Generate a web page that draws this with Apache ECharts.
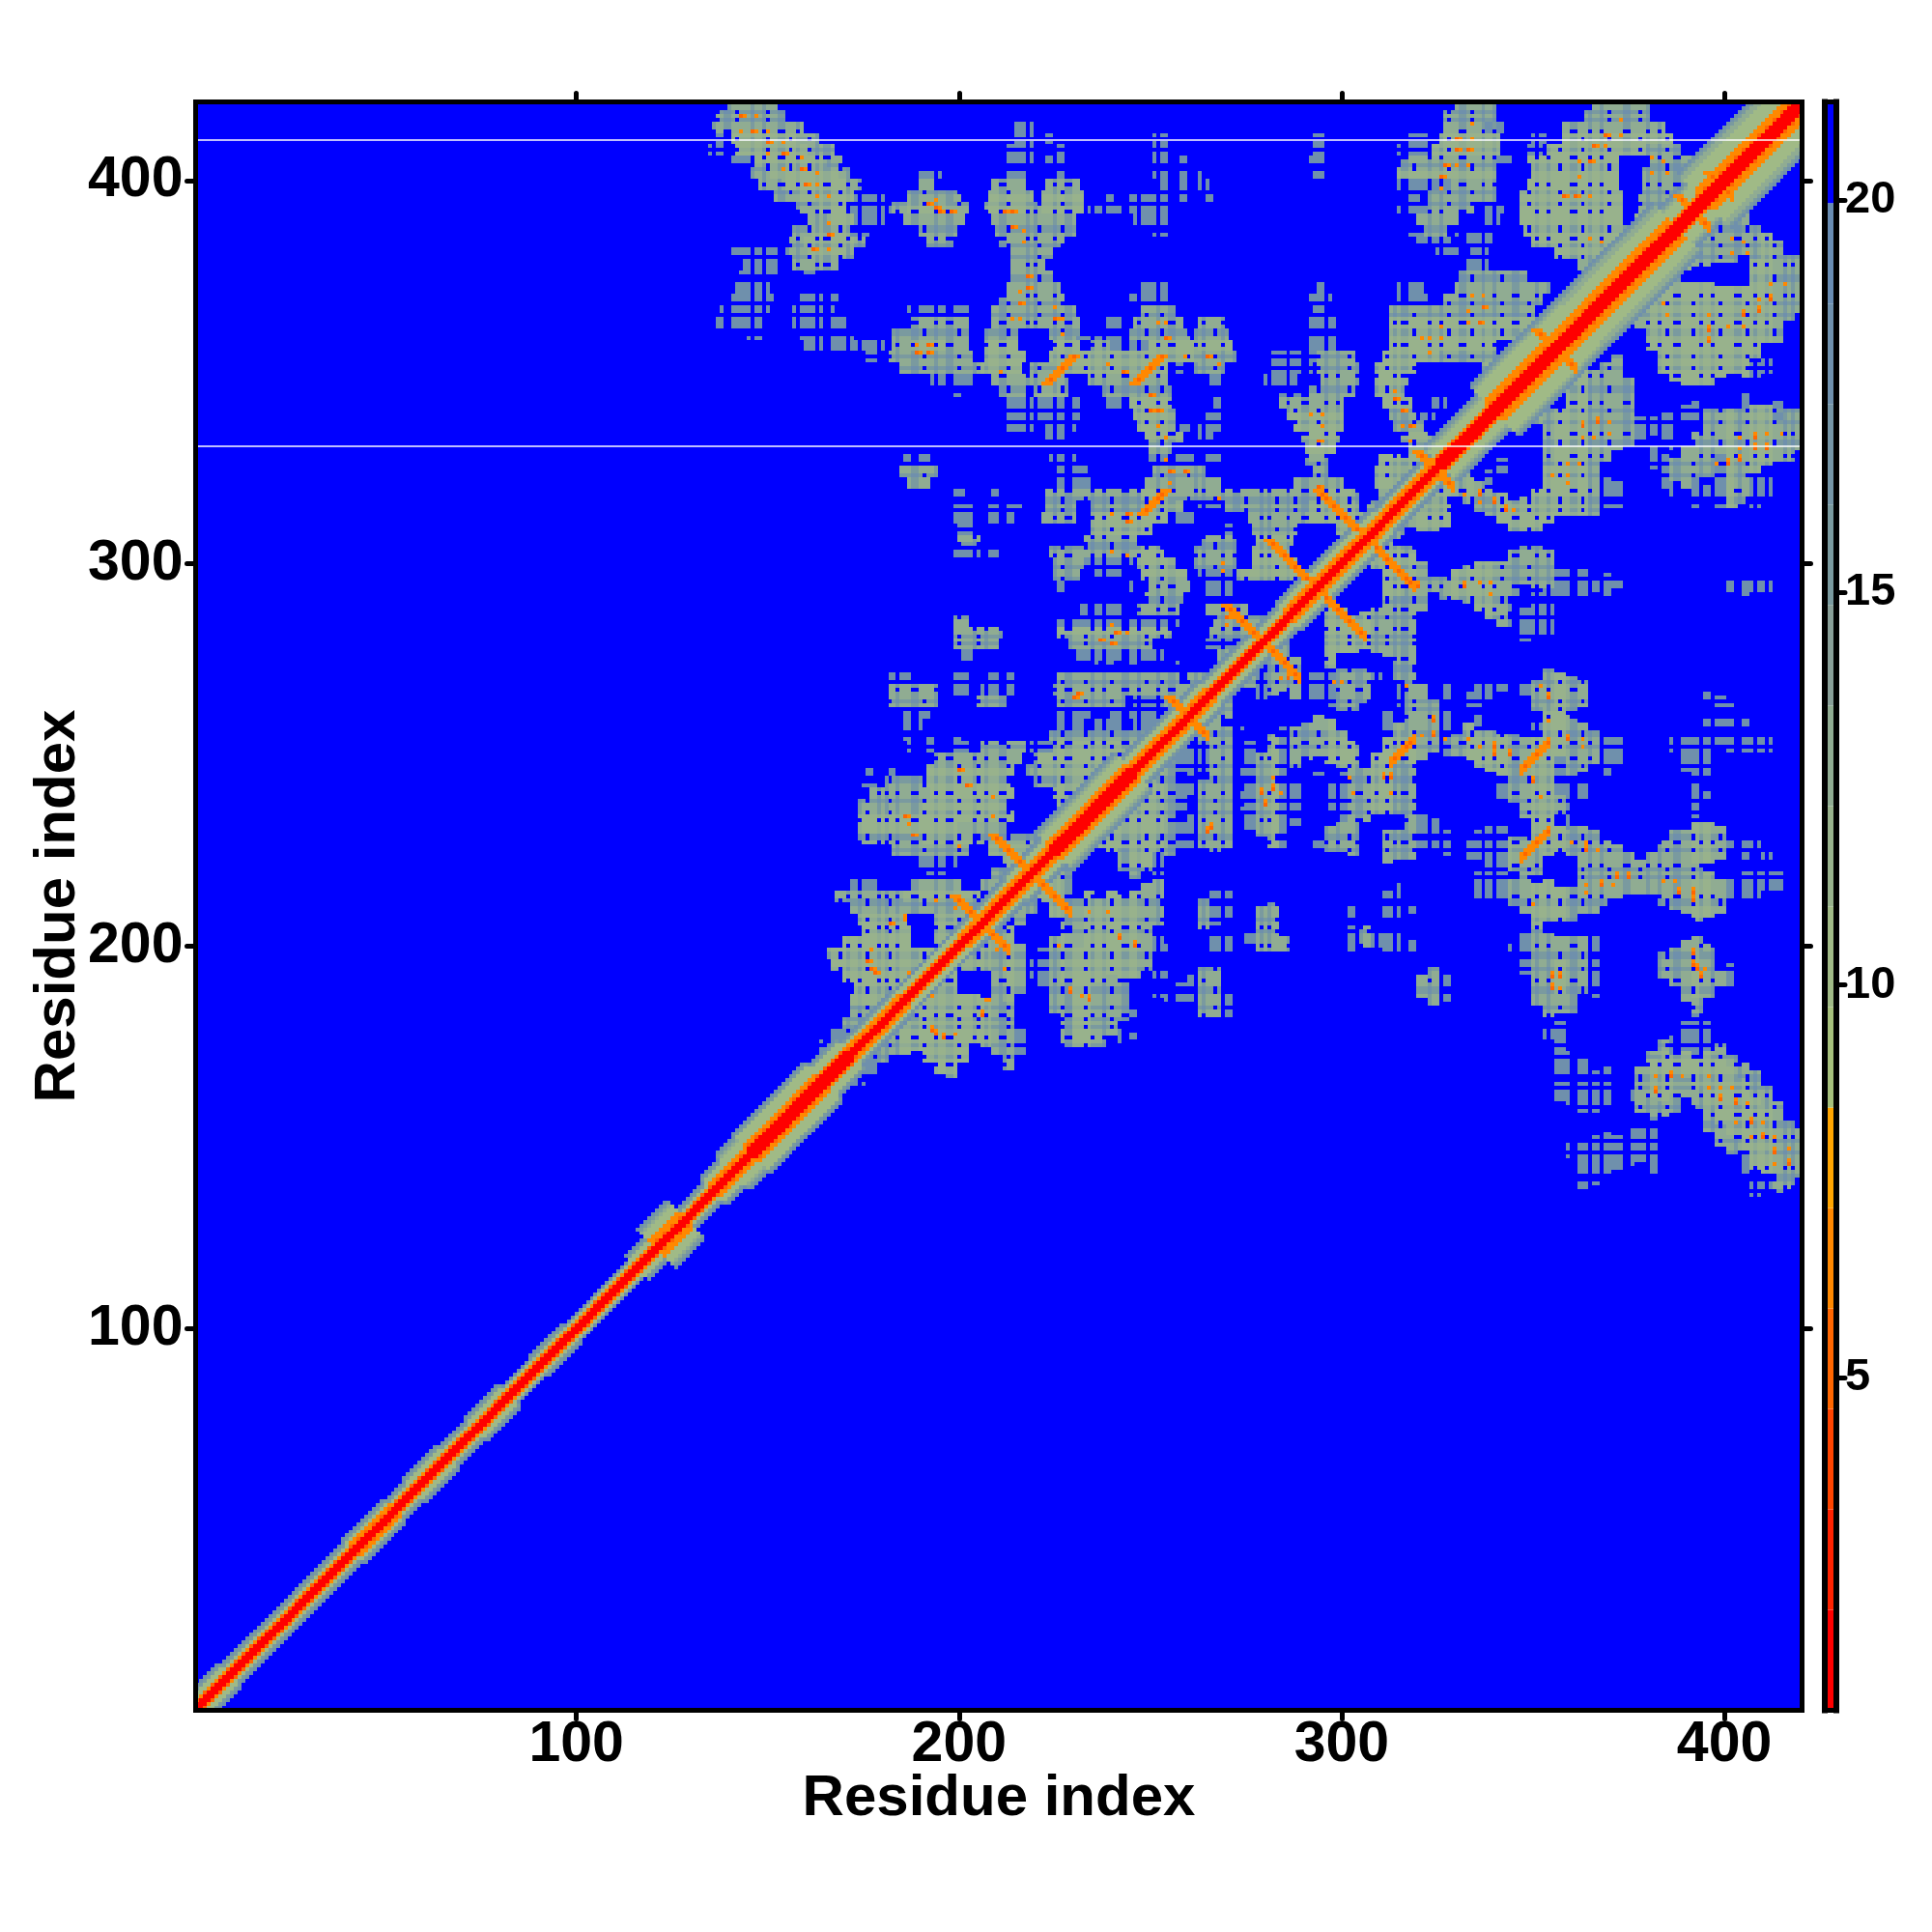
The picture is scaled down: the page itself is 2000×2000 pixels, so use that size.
<!DOCTYPE html>
<html><head><meta charset="utf-8">
<style>html,body{margin:0;padding:0;background:#fff}#c{width:2000px;height:2000px}</style>
<script src="https://cdn.jsdelivr.net/npm/echarts@6/dist/echarts.min.js"></script>
</head><body><div id="c"></div>
<script>
const axisTicks=[100,200,300,400];
const legendTicks=[5,10,15,20];
const levelBreaks=[0.76,2.04,3.32,4.6,5.88,7.16,8.44,9.72,11,12.28,13.56,14.84,16.12,17.4,18.68,19.96,21.25];
const levelColors=['#FF0000','#FF2200','#FF4400','#FF6600','#FF8800','#FFA500','#A6C07C','#A0BA86','#98B28C','#90AC92','#889F98','#7A9A9F','#7595A6','#6F90AC','#698CB2','#0000FF'];
const missingRows=[410.6,330.6];
// residue, half-widths measured from the diagonal: red, orange, green, steel
const diagonalBands=[[1,9,1,2,4,6],[10,41,1,2,3,5],[42,52,1,3,4,6],[53,57,1,2,3,5],[58,66,1,2,4,6],[67,73,1,2,3,5],[74,82,1,2,4,6],[83,89,1,2,3,4],[90,98,1,2,3,5],[99,115,1,2,3,4],[116,120,1,2,4,6],[121,128,1,4,7,10],[129,135,1,2,3,5],[136,140,1,3,5,7],[141,145,1,3,6,9],[146,164,2,4,8,10],[165,171,2,3,6,8],[172,185,1,3,4,6],[186,200,1,2,4,5],[201,214,1,3,4,6],[215,224,1,3,5,7],[225,245,2,4,7,10],[246,265,1,3,5,7],[266,285,1,2,4,6],[286,310,1,3,5,7],[311,325,1,3,4,6],[326,339,2,3,6,9],[340,362,2,5,10,13],[363,387,2,5,9,13],[388,394,2,3,7,10],[395,420,2,5,10,14]];
// y of a three-residue row, then runs x1-x2 with D dense, M medium, S sparse
const contactRuns=[
[420,"140-152M 330-340M 366-380M"],[417,"137-154M 327-340M 364-380M"],[414,"136-159M 215-219S 327-341M 338-342S 358-384M"],
[411,"136-140S 141-158D 159-163M 215-219S 223-225S 251-254S 293-295S 316-322S 326-341D 350-353S 358-386D"],
[408,"135-140S 142-160D 161-167M 212-219S 225-228S 251-255S 293-295S 315-322S 324-341D 349-352S 354-380D 380-388M"],
[405,"141-146S 147-165D 166-169M 211-219S 223-228S 251-256S 258-259S 292-295S 316-340M 341-344S 349-372D 381-392M"],
[402,"146-150M 151-168D 169-171M 189-195S 211-218S 225-228S 251-255S 258-259S 263-264S 293-295S 315-340D 350-372D 379-395M"],
[399,"148-153M 154-170D 171-174M 190-193M 209-217M 223-231M 252-256S 258-259S 263-265S 315-328S 329-340M 349-372D 379-396M"],
[396,"152-157M 158-172D 173-180S 187-200M 208-219D 222-232D 239-240S 245-250S 251-255S 258-259S 264-266S 316-320S 323-340M 347-373D 378-396M"],
[393,"158-163M 163-170D 171-182S 183-186M 187-198D 199-202M 207-218D 219-221M 222-232D 234-255S 315-322S 323-334M 338-342S 347-373D 378-398M"],
[390,"161-165M 166-172D 173-180S 186-201M 209-230M 246-254S 320-330M 338-341S 347-373D 377-398D"],
[387,"157-162M 162-171D 172-176S 190-199M 210-230M 251-254S 318-321S 322-327M 330-340S 348-375D 376-393D"],
[384,"156-160M 160-172D 173-175M 192-198M 211-227M 320-328S 331-340S 350-382D"],
[381,"141-155S 156-160M 161-170D 171-172M 214-224M 325-330S 334-338S 356-386D"],
[378,"144-154S 157-168M 214-222M 333-338S 362-385M"],
[375,"143-152S 160-163S 214-224M 331-348M"],
[372,"142-150S 213-226M 247-255S 294-296S 314-321S 330-354M"],
[369,"139-151S 158-168S 211-227M 245-255S 292-297S 314-322S 327-352M"],
[366,"138-150S 157-167S 187-202S 209-230M 248-256M 293-296S 313-350M"],
[363,"137-149S 157-171S 188-202M 209-231M 239-243S 246-258M 263-269M 292-298S 313-351D"],
[360,"145-149S 158-172S 183-202M 207-215M 224-231M 231-236S 237-244S 245-260M 262-270M 292-299S 313-352D"],
[357,"160-180S 183-188M 188-196D 197-202M 207-215D 225-231D 235-240M 240-250S 250-262D 263-271D 292-298S 313-340D 349-352M"],
[354,"176-178S 182-203M 207-217D 224-233D 234-246D 247-262D 263-272M 281-283S 284-293S 294-303M 311-325D 326-340M 349-355M"],
[351,"185-203M 203-207M 206-216D 219-224M 225-234D 234-247D 248-254D 255-258S 262-269M 281-292S 294-304M 309-319D 337-353D"],
[348,"193-203S 209-228M 234-250M 251-254M 266-268S 280-285S 286-288S 295-304M 309-317D 336-348D"],
[345,"199-200S 211-217M 220-228D 238-255M 284-286S 288-290S 292-303M 309-316D"],
[342,"211-231S 238-242S 245-255D 267-269S 284-296M 296-300M 311-318D 323-327S"],
[339,"211-231S 246-256D 264-268S 286-300D 313-319M 321-324S"],
[336,"211-220S 223-230S 247-256D 258-260S 263-268S 288-300D 314-321M"],
[333,"223-229S 249-258D 263-266S 290-299D 316-323D"],
[330,"250-255M 291-298D 318-324M"],
[327,"186-192S 224-230S 250-262S 264-268S 291-296M 310-323D"],
[324,"185-194M 225-233S 251-264M 293-296M 309-322D"],
[321,"187-192M 226-234S 249-268M 288-300M 309-316D"],
[318,"188-189S 199-201S 209-211S 223-231M 226-235M 235-247M 248-256D 257-270M 270-293M 294-302D 303-304M 310-317M"],
[315,"199-204S 208-216S 223-230M 235-250M 250-258D 262-270S 270-291M 292-304D 307-313M"],
[312,"199-204S 208-214S 222-230M 235-254D 255-262S 276-290M 291-307D"],
[309,"200-203S 235-250D 270-273S 277-288M 299-308D"],
[306,"200-205M 233-246M 264-272M 278-287D 299-305D"],
[303,"198-205S 208-211S 224-246M 247-253D 262-272M 277-286D"],
[300,"225-232M 233-236S 237-245S 247-256D 262-272M 277-288D"],
[297,"225-231M 235-243S 248-259D 263-272S 273-290D"],
[294,"225-228S 244-245S 250-260M 264-272S 288-292D"],
[291,"249-258M 264-272S 288-291D"],
[288,"232-233S 236-243S 247-257M 265-275M 284-288D"],
[285,"199-202M 226-229S 230-243S 244-250S 251-257S 267-280M"],
[282,"199-211M 226-255D 266-278M"],
[279,"199-210M 229-250M 264-276S"],
[276,"201-203S 231-253S 268-274M"],
[273,"235-236S 238-240S 243-246S 255-257S 268-271M"],
[270,"182-187S 199-202S 208-214S 226-257M 260-264M"],
[267,"182-194M 198-202S 206-214S 225-262M"],
[264,"182-194M 205-212M 226-243M 246-253S 254-262M"],
[261,"186-192S 226-234S 240-252S"],
[258,"186-190S 225-232S 236-244S 246-252S"],
[255,"186-189S 192-194S 197-200S 224-235M 236-250M"],
[252,"187-189S 192-194S 197-202S 206-217M 218-224S 225-240D 241-246D"],
[249,"194-198M 198-216M 220-225M 221-241D"],
[246,"176-177S 181-183S 192-214D 218-221M 221-238D"],
[243,"174-178S 181-190M 192-213D 220-226M 226-235D"],
[240,"177-192M 193-214D 225-232D"],
[237,"174-190M 191-212D 226-230D"],
[234,"174-214D"],
[231,"174-200D 200-212M 225-226M"],
[228,"174-190M 191-203D 205-223M"],
[225,"183-202M 208-222D"],
[222,"190-199S 212-220D"],
[219,"192-196S 209-216M"],
[216,"172-178S 188-200M 206-212M"],
[213,"168-185M 186-205D"],[210,"172-205M"],[207,"174-186D 194-206D"],[204,"175-187D 194-203D"],[201,"170-187D 194-200D"],
[198,"166-190D 191-197D"],[195,"167-195D"],[192,"170-192D"],[189,"173-188D"],[186,"172-186D"],[183,"172-182M"],[180,"170-178M"],[177,"167-172S"],[174,"163-168S"]
];
// residues whose row and column read weaker, which gives the plaid of the map
const weakResidues=[136,139,140,146,149,153,154,158,163,165,166,171,174,179,181,184,188,189,194,197,198,204,207,211,212,218,220,225,228,229,235,238,243,244,247,252,255,256,262,264,269,272,273,279,281,286,290,291,296,299,304,305,309,314,316,317,323,326,331,332,337,340,345,346,351,354,360,361,365,368,374,375,380,383,387,388,394,397,403,404,408,411,416,418];
// residues that leave open holes where they cross a weak residue
const openResidues=[137,142,150,156,161,169,176,182,191,200,205,213,221,227,233,240,249,253,260,267,275,283,288,294,302,307,312,319,328,334,342,349,357,363,370,378,385,392,399,406,413];
// hand-read orange strokes: x, y, length, direction of y per step
const hotStrokes=[[294,319,11,-1],[281,306,11,-1],[270,289,9,-1],[209,229,9,-1],[199,213,7,-1],[255,265,5,-1],[388,396,3,-1],[351,361,4,-1],[396,402,3,-1],[320,329,4,-1],[246,347,8,1],[223,347,8,1],[248,313,7,1]];
// hand-read single cells: x, y, distance
const hotCells=[[143,417,5],[147,417,7],[143,413,7],[146,413,5],[150,413,7],[150,410,5],[154,410,7],[150,407,7],[154,407,5],[159,406,7],[154,403,7],[159,403,5],[163,402,7],[160,399,5],[163,399,7],[163,396,7],[166,396,7],[166,389,7],[166,386,5],[162,382,5],[166,382,7],
[192,394,5],[194,393,5],[195,392,5],[198,392,5],[194,395,7],[189,357,7],[189,355,5],[192,357,5],[192,355,5],
[212,392,5],[214,392,5],[214,388,5],[217,387,7],[217,384,7],[218,375,5],[218,372,5],[216,371,7],[216,368,5],[214,364,7],[216,364,7],[225,367,7],[225,364,5],[227,364,7],[227,360,7],[211,350,7],
[252,363,7],[254,363,7],[254,359,5],[239,352,7],[243,350,5],[265,354,5],[268,352,7],[259,354,7],[250,344,5],[250,340,5],[252,340,5],[252,336,7],[254,333,7],[254,327,7],[259,324,5],[255,324,5],[255,321,7],[253,318,5],[268,317,7],
[292,339,7],[295,339,7],[295,336,7],[294,332,5],[294,320,5],[296,317,5],
[314,345,7],[314,343,5],[316,340,5],[316,336,7],[318,336,5],[318,332,7],[321,359,7],[323,359,7],[326,359,7],[323,355,7],[326,362,7],[333,366,7],[337,367,5],[333,363,7],[336,363,5],[334,370,7],[337,370,7],
[334,415,7],[330,411,5],[334,411,7],[330,408,5],[333,408,5],[327,404,5],[330,404,7],[333,404,7],[326,401,5],[326,398,7],
[373,416,7],[369,412,5],[373,412,7],[366,409,5],[369,409,7],[381,406,7],[362,405,7],[365,405,5],[384,405,7],[358,396,5],[361,396,5],[365,396,7],[381,402,7],[385,402,7],[365,385,7],[368,384,7],[362,401,7],
[186,234,5],[187,232,7],[188,229,5],[200,246,5],[202,242,5],[209,239,7],[209,234,7],[200,226,7],[230,265,5],[231,266,5],[240,284,7],[237,280,5],[240,279,5],[241,282,5],[244,282,7],[240,303,7],[244,302,7],[240,313,7],[244,313,5],[244,311,5],[270,286,5],[270,284,7],[269,300,7],[269,298,7],
[176,196,5],[177,194,5],[178,193,5],[182,206,5],[186,208,7],[186,207,7],[177,199,7],[194,212,7],[199,210,7],[187,193,7]];

const weak=new Set(weakResidues), open=new Set(openResidues), grid=new Map();
const put=(x,y,v)=>{ if(x>=1&&x<=420&&y>=1&&y<=420){grid.set(x*1000+y,v);grid.set(y*1000+x,v);} };
const styleValue={D:[11.5,13,15],M:[13,15.5,18],S:[17.5,null,null]};
contactRuns.forEach(([y,text])=>text.split(' ').forEach(run=>{
  const m=run.match(/(\d+)-(\d+)([DMS])/), a=+m[1], b=+m[2], vals=styleValue[m[3]];
  for(let x=a;x<=b;x++) for(let r=y-1;r<=y+1;r++){
    const crossed=(open.has(x)&&weak.has(r))||(weak.has(x)&&open.has(r));
    const v=vals[(weak.has(x)?1:0)+(weak.has(r)?1:0)];
    if(v!==null&&!crossed) put(x,r,v);
  }
}));
diagonalBands.forEach(([from,to,r,o,g,s])=>{
  for(let c=from;c<=to;c++) for(let d=s;d>=0;d--){
    const v=d<=r?1.5:(d===r+1&&c%2===0)?5:d<=o?7:d<=g?10:d===s?18:d===s-1?16:13.5;
    put(c-Math.floor(d/2),c+Math.ceil(d/2),v);
  }
});
const hot=(x,y,v)=>{const old=grid.get(x*1000+y); if(old===undefined||old>3) put(x,y,v);};
hotStrokes.forEach(([x,y,n,dir])=>{
  for(let i=0;i<n;i++){ hot(x+i-1,y+dir*i,7); hot(x+i+1,y+dir*i,7); hot(x+i,y+dir*i,i%3===1?5:7); }
});
hotCells.forEach(([x,y,v])=>{ hot(x,y,v); if(v===5) hot(x+1,y,7); });
const cells=[]; grid.forEach((v,k)=>cells.push([Math.floor(k/1000),k%1000,v]));

const frame={show:true,onZero:false,lineStyle:{color:'#000',width:5,cap:'square'}};
const tickStyle=t=>({show:true,length:9,customValues:t,lineStyle:{color:'#000',width:5,cap:'round'}});
const labelFont={fontFamily:'Liberation Sans',fontWeight:'bold',color:'#000'};
const xRange={min:0.5,max:420.3}, yRange={min:0.3,max:420.6};
const barRange={min:0.76,max:21.25};
const barData=levelColors.map((c,i)=>[levelBreaks[i],levelBreaks[i+1],i]);

const chart=echarts.init(document.getElementById('c'),null,{renderer:'canvas'});
chart.setOption({
  animation:false,backgroundColor:'#fff',
  grid:[
    {left:202.5,top:105.5,width:1663,height:1665,show:true,backgroundColor:'#0000FF',borderWidth:0},
    {left:1889,top:105.5,width:12,height:1665,show:false}
  ],
  xAxis:[
    {type:'value',gridIndex:0,position:'bottom',...xRange,z:10,axisLine:frame,splitLine:{show:false},axisTick:tickStyle(axisTicks),
     axisLabel:{show:true,customValues:axisTicks,fontSize:59,margin:7,...labelFont},
     name:'Residue index',nameLocation:'middle',nameGap:62,nameMoveOverlap:false,nameTextStyle:{fontSize:60,...labelFont}},
    {type:'value',gridIndex:0,position:'top',...xRange,z:10,axisLine:frame,splitLine:{show:false},axisTick:tickStyle(axisTicks),axisLabel:{show:false}},
    {type:'value',gridIndex:1,position:'bottom',min:0,max:1,z:10,axisLine:frame,splitLine:{show:false},axisTick:{show:false},axisLabel:{show:false}},
    {type:'value',gridIndex:1,position:'top',min:0,max:1,z:10,axisLine:frame,splitLine:{show:false},axisTick:{show:false},axisLabel:{show:false}}
  ],
  yAxis:[
    {type:'value',gridIndex:0,position:'left',...yRange,z:10,axisLine:frame,splitLine:{show:false},axisTick:tickStyle(axisTicks),
     axisLabel:{show:true,customValues:axisTicks,fontSize:59,margin:13,padding:[6,0,0,0],...labelFont},
     name:'Residue index',nameLocation:'middle',nameGap:112,nameMoveOverlap:false,nameTextStyle:{fontSize:60,...labelFont}},
    {type:'value',gridIndex:0,position:'right',...yRange,z:10,axisLine:frame,splitLine:{show:false},axisTick:tickStyle(axisTicks),axisLabel:{show:false}},
    {type:'value',gridIndex:1,position:'right',...barRange,z:10,axisLine:{...frame,lineStyle:{color:'#000',width:6,cap:'square'}},splitLine:{show:false},axisTick:tickStyle(legendTicks),
     axisLabel:{show:true,customValues:legendTicks,fontSize:47,margin:9,padding:[5,0,0,0],...labelFont}},
    {type:'value',gridIndex:1,position:'left',...barRange,z:10,axisLine:{...frame,lineStyle:{color:'#000',width:6,cap:'square'}},splitLine:{show:false},axisTick:{show:false},axisLabel:{show:false}}
  ],
  visualMap:{show:false,type:'piecewise',seriesIndex:0,dimension:2,
    pieces:levelColors.map((c,i)=>({gte:levelBreaks[i],lt:levelBreaks[i+1],color:c}))},
  series:[
    {type:'custom',xAxisIndex:0,yAxisIndex:0,z:2,clip:true,silent:true,progressive:0,animation:false,data:cells,
     encode:{x:0,y:1},
     renderItem:(p,api)=>{
       const a=api.coord([api.value(0)-0.5,api.value(1)+0.5]), b=api.coord([api.value(0)+0.5,api.value(1)-0.5]);
       const x=Math.round(a[0]), y=Math.round(a[1]);
       return {type:'rect',shape:{x,y,width:Math.round(b[0])-x,height:Math.round(b[1])-y},style:{fill:api.visual('color')}};
     }},
    ...missingRows.map(v=>({type:'line',xAxisIndex:0,yAxisIndex:0,z:3,silent:true,showSymbol:false,animation:false,
      data:[[xRange.min,v],[xRange.max,v]],lineStyle:{color:'#fff',width:1.5}})),
    {type:'custom',xAxisIndex:2,yAxisIndex:2,z:2,clip:true,silent:true,animation:false,data:barData,
     encode:{y:[0,1]},
     renderItem:(p,api)=>{
       const a=api.coord([0,api.value(1)]), b=api.coord([1,api.value(0)]);
       return {type:'rect',shape:{x:a[0],y:a[1],width:b[0]-a[0],height:b[1]-a[1]},style:{fill:levelColors[api.value(2)]}};
     }}
  ]
});
</script></body></html>
